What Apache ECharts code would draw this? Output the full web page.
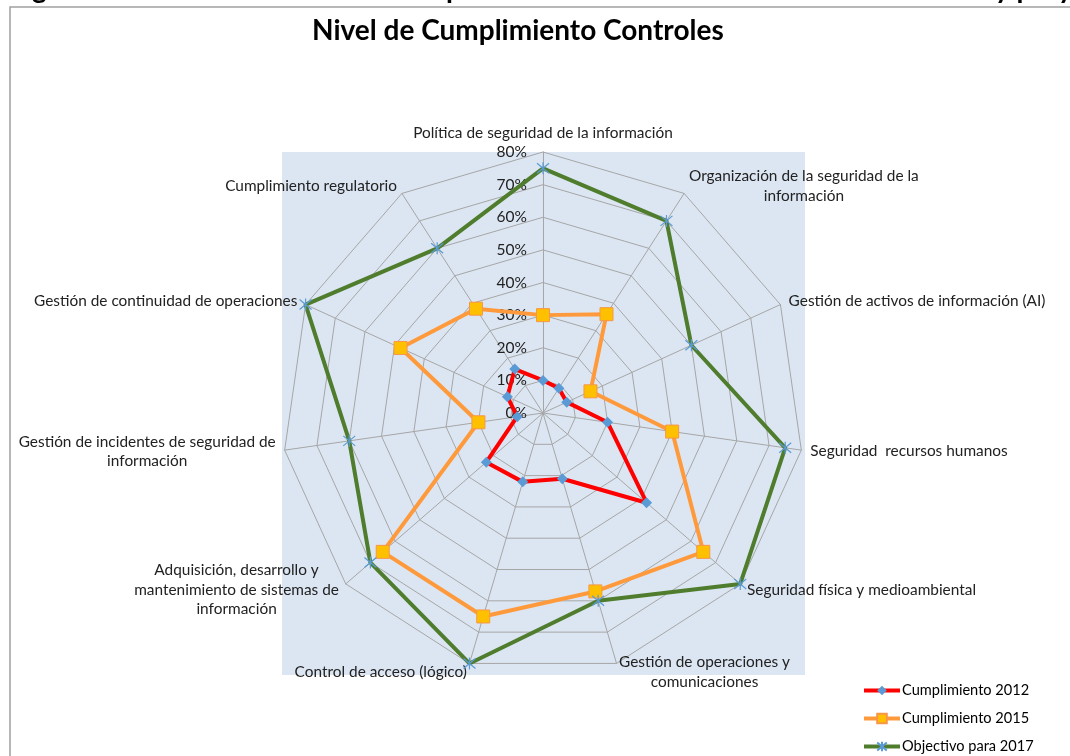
<!DOCTYPE html>
<html>
<head>
<meta charset="utf-8">
<script src="https://cdn.jsdelivr.net/npm/echarts@6/dist/echarts.min.js"></script>
<style>
html,body{margin:0;padding:0;background:#fff;}
#main{width:1070px;height:756px;}
</style>
</head>
<body>
<div id="main"></div>
<script>
// Categories in clockwise order starting at the top (as in the reference)
const categories = [
  'Política de seguridad de la información',
  'Organización de la seguridad de la\ninformación',
  'Gestión de activos de información (AI)',
  'Seguridad  recursos humanos',
  'Seguridad física y medioambiental',
  'Gestión de operaciones y\ncomunicaciones',
  'Control de acceso (lógico)',
  'Adquisición, desarrollo y\nmantenimiento de sistemas de\ninformación',
  'Gestión de incidentes de seguridad de\ninformación',
  'Gestión de continuidad de operaciones',
  'Cumplimiento regulatorio'
];
const seriesNames = ['Cumplimiento 2012', 'Cumplimiento 2015', 'Objectivo para 2017'];
const cumplimiento2012 = [10, 9, 8, 20, 42, 21, 22, 23, 8, 12, 16];
const cumplimiento2015 = [30, 36, 16, 40, 65, 57, 65, 65, 20, 48, 38];
const objetivo2017     = [75, 70, 50, 75, 80, 60, 80, 70, 60, 80, 60];
const axisMax = 80;
const tickLabels = ['0%', '10%', '20%', '30%', '40%', '50%', '60%', '70%', '80%'];

// ECharts places radar indicators counter-clockwise; reorder to get clockwise
const order = [0].concat(categories.map((_, i) => i).slice(1).reverse());
const reorder = arr => order.map(i => arr[i]);

const FONT = 'Lato';
const asterisk = 'path://M0,0L10,10M10,0L0,10M5,-1L5,11';

const styles = [
  { line: '#FF0000', sym: 'diamond', symSize: 11, fill: '#5B9BD5', border: '#5B9BD5', bw: 0 },
  { line: '#FF9A3C', sym: 'rect', symSize: 13, fill: '#FFC000', border: '#F79646', bw: 1 },
  { line: '#4F7D2D', sym: asterisk, symSize: 12, fill: 'rgba(0,0,0,0)', border: '#5B9BD5', bw: 1.2 }
];
const dataSets = [cumplimiento2012, cumplimiento2015, objetivo2017];

const chart = echarts.init(document.getElementById('main'));

const legendSeries = seriesNames.map((n, k) => ({
  type: 'line', name: n, data: [], xAxisIndex: 0, yAxisIndex: 0,
  symbol: styles[k].sym, symbolSize: styles[k].symSize,
  lineStyle: { color: styles[k].line, width: 4 },
  itemStyle: { color: styles[k].fill, borderColor: styles[k].border, borderWidth: styles[k].bw }
}));

const radarSeries = {
  type: 'radar',
  radarIndex: 0,
  silent: true,
  data: seriesNames.map((n, k) => ({
    name: n,
    value: reorder(dataSets[k]),
    symbol: styles[k].sym,
    symbolSize: styles[k].symSize,
    lineStyle: { color: styles[k].line, width: 4 },
    itemStyle: { color: styles[k].fill, borderColor: styles[k].border, borderWidth: styles[k].bw }
  }))
};

const nameStyle = { color: '#222', fontFamily: FONT, fontSize: 15.4, lineHeight: 19.5, align: 'center' };

chart.setOption({
  animation: false,
  textStyle: { fontFamily: FONT },
  graphic: [
    { type: 'rect', shape: { x: 10, y: 7, width: 1200, height: 900 }, style: { fill: '#fff', stroke: '#A0A0A0', lineWidth: 1.5 }, z: -10 },
    { type: 'rect', shape: { x: 282, y: 152, width: 523, height: 523 }, style: { fill: '#DCE6F2' }, z: -9 },
    { type: 'text', x: 32, y: -25, style: { text: 'g', font: 'bold 28px Lato', fill: '#000' }, z: -8 },
    { type: 'text', x: 446, y: -25, style: { text: 'p', font: 'bold 28px Lato', fill: '#000' }, z: -8 },
    { type: 'text', x: 995, y: -25, style: { text: 'y proy', font: 'bold 28px Lato', fill: '#000' }, z: -8 }
  ],
  title: {
    text: 'Nivel de Cumplimiento Controles',
    left: 307, top: 12,
    textStyle: { fontFamily: FONT, fontWeight: 'bold', fontSize: 28, color: '#000' }
  },
  legend: {
    orient: 'vertical', left: 862, top: 683, height: 80, padding: 0,
    itemWidth: 36, itemHeight: 12, itemGap: 13,
    lineStyle: { width: 4 },
    textStyle: { fontFamily: FONT, fontSize: 14.6, lineHeight: 14, color: '#000', padding: [0, 0, 0, -3] },
    data: seriesNames,
    selectedMode: false
  },
  xAxis: { show: false, type: 'category', data: [] },
  yAxis: { show: false, type: 'value' },
  grid: { left: -100, top: -100, width: 10, height: 10 },
  radar: {
    center: [543, 413],
    radius: 261,
    startAngle: 90,
    shape: 'polygon',
    splitNumber: 8,
    axisName: {
      color: '#222', fontFamily: FONT, fontSize: 15.4, lineHeight: 19.5,
      formatter: name => name.split('\n').map(l => '{c|' + l + '}').join('\n'),
      rich: { c: nameStyle }
    },
    nameGap: 9,
    splitArea: { show: false },
    splitLine: { lineStyle: { color: '#A6A6A6', width: 1 } },
    axisLine: { lineStyle: { color: '#A6A6A6', width: 1 } },
    axisTick: { show: false },
    axisLabel: { show: false },
    indicator: reorder(categories).map((c, i) => {
      const ind = { name: c, min: 0, max: axisMax };
      if (i === 0) {
        ind.axisLabel = {
          show: true, color: '#222', fontFamily: FONT, fontSize: 15.5, margin: 16,
          formatter: v => tickLabels[Math.round(v / 10)]
        };
      }
      return ind;
    })
  },
  series: legendSeries.concat([radarSeries])
});
</script>
</body>
</html>
